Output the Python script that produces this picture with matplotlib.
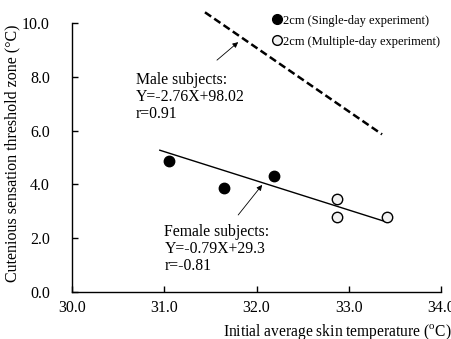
import matplotlib
matplotlib.use("Agg")
import matplotlib.pyplot as plt
from matplotlib.lines import Line2D

# ── data ──
single_x = [31.05, 31.65, 32.19]
single_y = [4.87, 3.88, 4.30]
multi_x = [32.87, 32.87, 33.41]
multi_y = [3.45, 2.80, 2.78]

female_line_x = [30.95, 33.40]
female_line_y = [5.27, 2.61]
male_line_x = [31.44, 33.36]
male_line_y = [10.40, 5.86]

x_ticks = [30.0, 31.0, 32.0, 33.0, 34.0]
y_ticks = [0.0, 2.0, 4.0, 6.0, 8.0, 10.0]

male_text = "Male subjects:\nY=-2.76X+98.02\nr=0.91"
female_text = "Female subjects:\nY=-0.79X+29.3\nr=-0.81"

plt.rcParams["font.family"] = ["Liberation Serif", "DejaVu Serif"]
plt.rcParams["mathtext.fontset"] = "custom"
plt.rcParams["mathtext.rm"] = "Liberation Serif"

fig = plt.figure(figsize=(4.51, 3.39), dpi=100)
ax = fig.add_axes([0.160, 0.139, 0.818, 0.793])

ax.plot(male_line_x, male_line_y, color="black", lw=1.8, ls=(0, (3, 1.5)),
        clip_on=False)
ax.plot(female_line_x, female_line_y, color="black", lw=1.0)
ax.plot(single_x, single_y, "o", ms=7.5, mfc="black", mec="black", ls="none")
ax.plot(multi_x, multi_y, "o", ms=7.5, mfc="#f2f2f2", mec="black", mew=1.0, ls="none")

# annotation texts
ax.text(30.69, 8.18, male_text, fontsize=11.3, linespacing=1.1, va="top", ha="left")
ax.text(31.0, 2.53, female_text, fontsize=11.3, linespacing=1.1, va="top", ha="left")

# arrows
arrow = dict(arrowstyle="-|>", color="black", lw=0.6, mutation_scale=8,
             shrinkA=0, shrinkB=0)
ax.annotate("", xy=(31.80, 9.29), xytext=(31.57, 8.62), arrowprops=arrow)
ax.annotate("", xy=(32.06, 3.98), xytext=(31.80, 2.86), arrowprops=arrow)

handles = [
    Line2D([], [], marker="o", ls="none", ms=7, mfc="black", mec="black"),
    Line2D([], [], marker="o", ls="none", ms=7, mfc="#f2f2f2", mec="black"),
]
ax.legend(handles, ["2cm (Single-day experiment)", "2cm (Multiple-day experiment)"],
          loc="upper left", bbox_to_anchor=(0.525, 1.05), frameon=False,
          fontsize=9, handletextpad=0.0, handlelength=1.0,
          labelspacing=0.72, borderaxespad=0)

ax.set_xlim(30, 34)
ax.set_ylim(0, 10)
ax.set_xticks(x_ticks)
ax.set_yticks(y_ticks)
ax.set_xticklabels([f"{v:.1f}" for v in x_ticks], fontsize=11.5)
ax.set_yticklabels([f"{v:.1f}" for v in y_ticks], fontsize=11.5)
ax.tick_params(axis="both", direction="in", length=4, width=1)
ax.tick_params(axis="y", pad=16)
ax.tick_params(axis="x", pad=6)

for s in ["top", "right"]:
    ax.spines[s].set_visible(False)
for s in ["left", "bottom"]:
    ax.spines[s].set_linewidth(1.0)

fig.text(0.027, 0.549, "Cutenious sensation threshold zone (°C)",
         rotation=90, ha="center", va="center", fontsize=11.5)
fig.text(0.494, 0.02, r"Initial average skin temperature ($^{\rm o}$C)",
         ha="left", va="center", fontsize=11.2)

fig.savefig("out.png", dpi=100)
